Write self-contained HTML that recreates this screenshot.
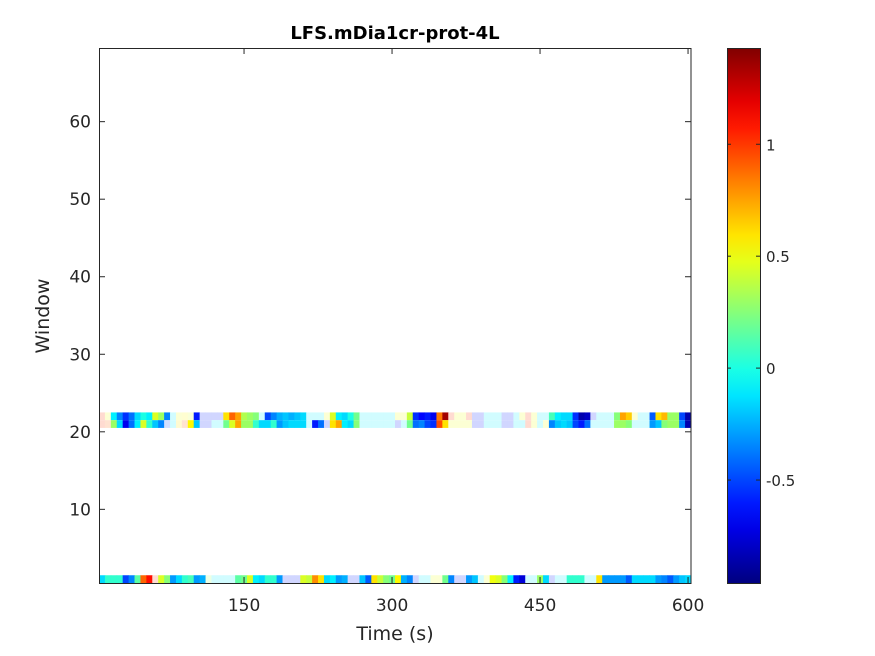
<!DOCTYPE html>
<html><head><meta charset="utf-8"><style>
html,body{margin:0;padding:0;background:#fff;}
svg{display:block;font-family:"DejaVu Sans","Liberation Sans",sans-serif;}
</style></head><body>
<svg id="chart" width="875" height="656" viewBox="0 0 875 656">
<defs><linearGradient id="jet" x1="0" y1="1" x2="0" y2="0"></linearGradient></defs>
<rect x="0" y="0" width="875" height="656" fill="#fff"/>
<text x="395" y="39" text-anchor="middle" font-size="18" font-weight="bold" fill="#000">LFS.mDia1cr-prot-4L</text>
<g id="cells"></g>
<rect x="99.5" y="48.5" width="591.5" height="535" fill="none" stroke="#262626" stroke-width="1"/>
<g id="xticks"></g>
<g id="yticks"></g>
<text x="395" y="640" text-anchor="middle" font-size="19" fill="#262626">Time (s)</text>
<text transform="translate(49,316) rotate(-90)" text-anchor="middle" font-size="19" fill="#262626">Window</text>
<rect x="727" y="48" width="33" height="535" fill="url(#jet)"/>
<rect x="727.5" y="48.5" width="33" height="535" fill="none" stroke="#262626"/>
<g id="cticks"></g>
</svg>
<script>
const timeStart = 6, timeStep = 6;
const rowWindows = [22, 21, 1];
const row22 = [1.0,0.5,-0.1,-0.35,-0.55,-0.4,-0.15,0.0,-0.1,0.45,
0.3,-0.35,-0.1,0.5,0.55,0.45,-0.6,-0.6,-0.6,-0.6,
-0.6,0.6,0.9,0.75,0.35,0.3,0.25,-0.1,-0.5,-0.35,
-0.25,-0.2,-0.25,-0.2,-0.15,-0.1,-0.1,-0.1,0.5,0.45,
-0.1,-0.15,0.0,0.2,-0.1,-0.1,-0.1,-0.1,-0.1,-0.1,
0.5,0.5,0.4,-0.55,-0.65,-0.6,-0.7,0.85,1.35,1.0,
0.5,0.5,1.0,-0.6,-0.6,-0.1,-0.1,-0.1,-0.6,-0.6,
-0.1,0.5,1.0,0.5,-0.1,-0.1,0.1,-0.1,-0.15,-0.15,
-0.55,-0.85,-0.8,-0.6,-0.1,-0.1,-0.1,0.25,0.75,0.65,
0.5,-0.1,-0.1,-0.45,0.6,0.7,0.3,0.3,-0.5,-0.85];
const faded22 = [0,1,12,13,14,15,17,18,19,20,27,35,36,37,38,44,45,46,47,48,49,50,51,59,60,61,62,63,64,65,66,67,68,69,70,71,72,73,74,75,83,84,85,86,90,91,92];
const row21 = [1.0,0.9,0.3,-0.15,-0.7,-0.4,-0.1,0.45,0.05,-0.2,
-0.35,-0.5,-0.1,0.6,0.9,0.55,-0.2,-0.6,-0.6,-0.1,
-0.1,0.2,0.45,0.75,0.3,0.3,0.05,-0.15,-0.15,0.05,
-0.3,-0.2,-0.15,-0.15,-0.15,-0.1,-0.6,-0.4,-0.6,0.6,
0.75,-0.1,-0.15,0.25,-0.1,-0.1,-0.1,-0.1,-0.1,-0.1,
-0.6,-0.1,0.2,-0.4,-0.35,-0.5,-0.55,0.95,0.6,0.5,
0.5,0.5,0.5,-0.6,-0.6,-0.1,-0.1,-0.1,-0.6,-0.6,
-0.1,-0.1,1.0,0.5,-0.1,0.5,-0.35,-0.2,-0.15,-0.2,
-0.5,-0.6,-0.4,-0.1,-0.1,-0.1,-0.1,0.3,0.3,0.25,
-0.1,-0.1,-0.1,-0.3,-0.2,0.25,0.3,0.3,-0.35,-0.85];
const faded21 = [0,1,11,12,13,14,17,18,19,20,35,38,44,45,46,47,48,49,50,51,59,60,61,62,63,64,65,66,67,68,69,70,71,72,73,74,75,83,84,85,86,90,91,92];
const row1 = [-0.15,0.05,0.05,0.05,-0.5,-0.35,0.15,0.9,1.1,1.0,
0.45,0.25,-0.3,-0.15,0.05,0.1,-0.3,-0.25,0.3,-0.1,
-0.1,-0.1,-0.1,0.15,0.2,0.45,-0.1,-0.15,0.05,0.05,
-0.3,-0.6,-0.6,-0.6,0.45,0.4,0.8,0.6,-0.15,-0.1,
-0.3,-0.25,-0.6,-0.6,-0.2,-0.45,0.6,0.4,0.25,0.2,
0.55,-0.25,-0.35,-0.6,-0.1,-0.1,0.5,0.5,0.2,-0.35,
-0.6,-0.6,-0.3,-0.2,-0.1,0.5,0.5,0.45,0.25,-0.1,
-0.6,-0.75,-0.1,-0.1,0.3,-0.15,-0.6,-0.1,-0.1,0.05,
0.05,0.05,-0.1,-0.1,0.6,-0.3,-0.3,-0.3,-0.3,-0.45,
-0.15,-0.15,-0.15,-0.15,-0.3,-0.35,-0.45,-0.3,-0.2,-0.15];
const faded1 = [9,18,19,20,21,22,31,32,33,42,43,53,54,55,56,57,60,61,64,65,72,73,76,77,78,82,83];
const xTicks = [150,300,450,600];
const yTicks = [10,20,30,40,50,60];
const cTicks = [-0.5,0,0.5,1];
const cTickLabels = ["-0.5","0","0.5","1"];
const cMin = -0.96, cMax = 1.43;

const NS = "http://www.w3.org/2000/svg";
const X0 = 99, X1 = 691, Y0 = 48, Y1 = 583;
const xMin = 3, xMax = 603, yMin = 0.5, yMax = 69.5;
function xs(t){ return X0 + (t - xMin) / (xMax - xMin) * (X1 - X0); }
function ys(w){ return Y1 - (w - yMin) / (yMax - yMin) * (Y1 - Y0); }
function cs(v){ return Y1 - (v - cMin) / (cMax - cMin) * (Y1 - Y0); }
function jet(t){
  t = Math.max(0, Math.min(1, t));
  const c = x => Math.round(255 * Math.max(0, Math.min(1, 1.5 - Math.abs(x))));
  return [c(4*t-3), c(4*t-2), c(4*t-1)];
}
function colorFor(v, faded){
  let [r,g,b] = jet((v - cMin) / (cMax - cMin));
  if (faded){ const a = 0.18; r = Math.round(255*(1-a)+r*a); g = Math.round(255*(1-a)+g*a); b = Math.round(255*(1-a)+b*a); }
  return `rgb(${r},${g},${b})`;
}
function mk(tag, attrs, parent){
  const el = document.createElementNS(NS, tag);
  for (const k in attrs) el.setAttribute(k, attrs[k]);
  parent.appendChild(el);
  return el;
}
const cells = document.getElementById('cells');
const rows = [row22, row21, row1];
const fades = [faded22, faded21, faded1];
rows.forEach((vals, ri) => {
  const w = rowWindows[ri];
  vals.forEach((v, i) => {
    const t = timeStart + i * timeStep;
    const xa = xs(t - timeStep/2), xb = xs(t + timeStep/2);
    const ya = ys(w + 0.5), yb = ys(w - 0.5);
    const r = mk('rect', {x: xa, y: ya, width: xb - xa + 0.4, height: yb - ya, fill: colorFor(v, fades[ri].includes(i))}, cells);
    
    
  });
});
const xg = document.getElementById('xticks');
xTicks.forEach(t => {
  const x = xs(t);
  const l1 = mk('line', {x1: x, y1: Y1, x2: x, y2: Y1 - 6, stroke: '#262626'}, xg);
  
  
  const l2 = mk('line', {x1: x, y1: Y0, x2: x, y2: Y0 + 6, stroke: '#262626'}, xg);
  
  
  const tx = mk('text', {x: x, y: 611, 'text-anchor': 'middle', 'font-size': 17, fill: '#262626'}, xg);
  tx.textContent = t;
  
  
});
const yg = document.getElementById('yticks');
yTicks.forEach(w => {
  const y = ys(w);
  const l1 = mk('line', {x1: X0, y1: y, x2: X0 + 6, y2: y, stroke: '#262626'}, yg);
  
  
  const l2 = mk('line', {x1: X1, y1: y, x2: X1 - 6, y2: y, stroke: '#262626'}, yg);
  
  
  const tx = mk('text', {x: 91, y: y + 6, 'text-anchor': 'end', 'font-size': 17, fill: '#262626'}, yg);
  tx.textContent = w;
  
  
});
const grad = document.getElementById('jet');
for (let i = 0; i <= 20; i++){
  const [r,g,b] = jet(i/20);
  mk('stop', {offset: (i/20), 'stop-color': `rgb(${r},${g},${b})`}, grad);
}
const cg = document.getElementById('cticks');
cTicks.forEach((v, i) => {
  const y = cs(v);
  const l1 = mk('line', {x1: 727, y1: y, x2: 731, y2: y, stroke: '#262626'}, cg);
  
  
  const l2 = mk('line', {x1: 760, y1: y, x2: 756, y2: y, stroke: '#262626'}, cg);
  
  
  const tx = mk('text', {x: 766, y: y + 6, 'font-size': 15, fill: '#262626'}, cg);
  tx.textContent = cTickLabels[i];
  
  
});
</script>
</body></html>
